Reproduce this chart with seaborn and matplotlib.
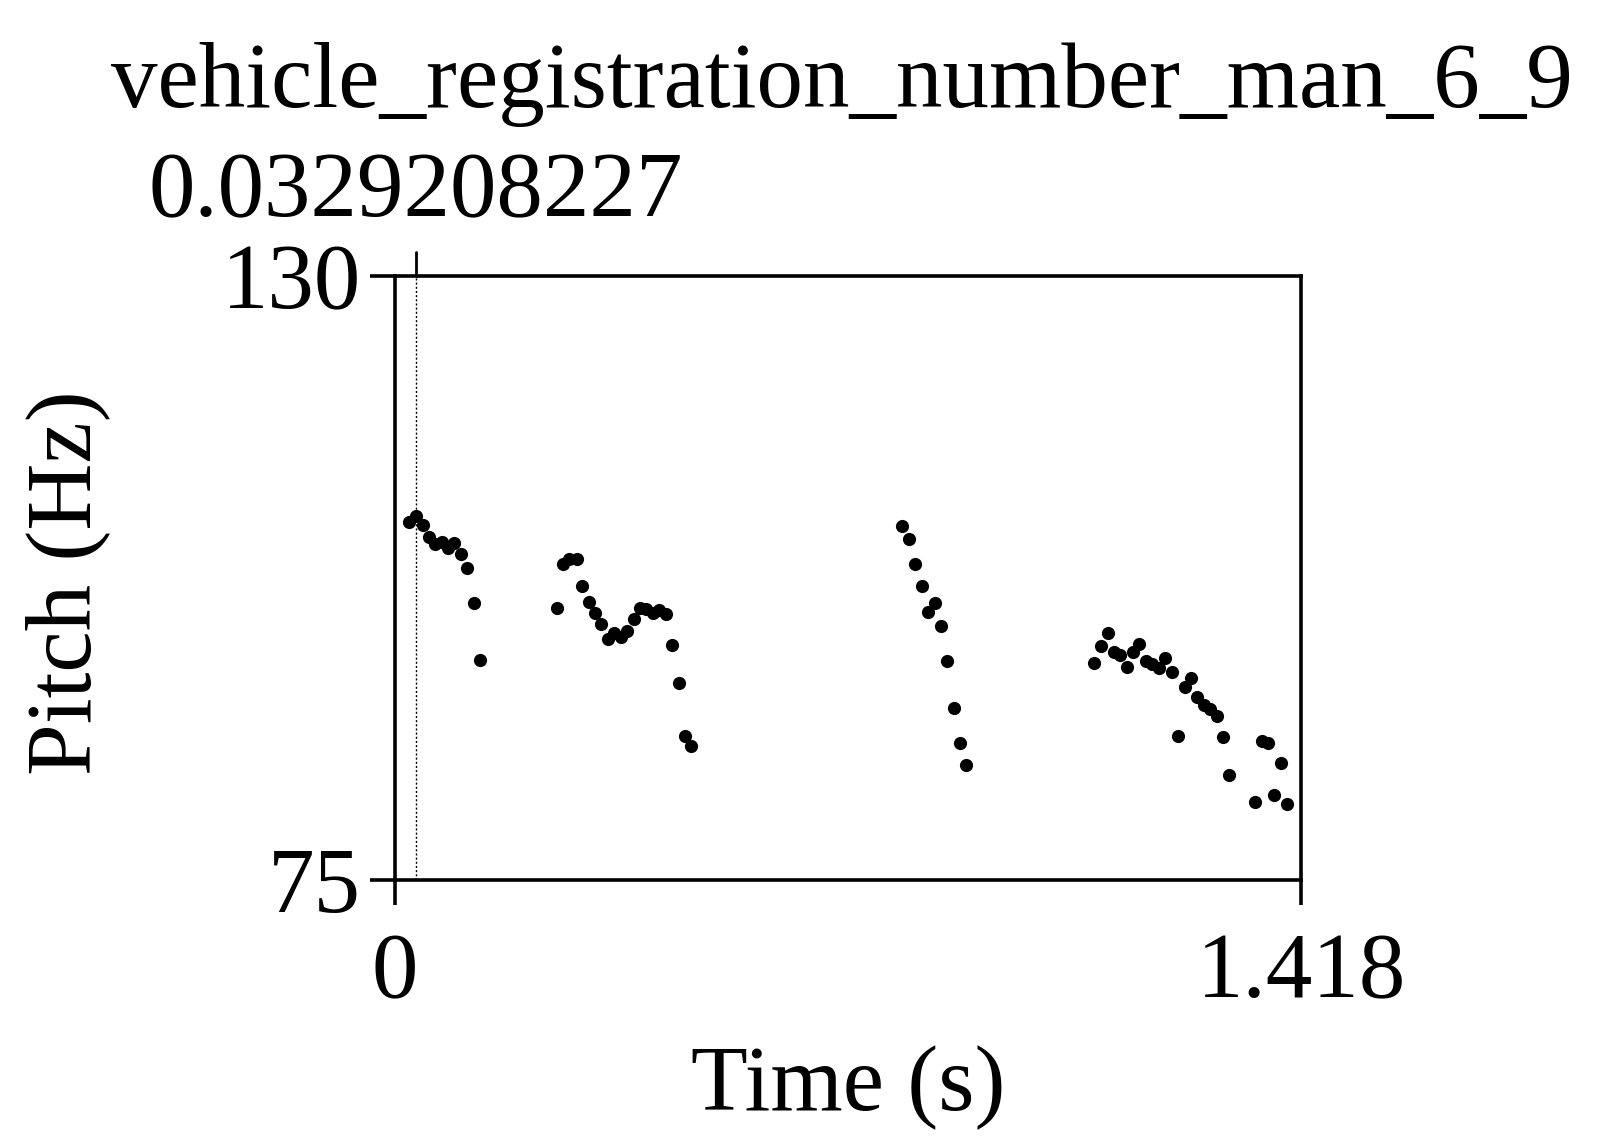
import numpy as np
import pandas as pd
import seaborn as sns
import matplotlib.pyplot as plt
import matplotlib.transforms as mtransforms

title = "vehicle_registration_number_man_6_9"
cursor_time = 0.0329208227
x_range = [0, 1.418]
y_range = [75, 130]

time_s = [0.0230, 0.0335, 0.0439, 0.0543, 0.0632, 0.0737, 0.0830, 0.0934, 0.1034, 0.1132, 0.1237, 0.1331,
          0.2540, 0.2629, 0.2732, 0.2848, 0.2931, 0.3035, 0.3134, 0.3232, 0.3337, 0.3436, 0.3536, 0.3634,
          0.3739, 0.3838, 0.3936, 0.4036, 0.4139, 0.4239, 0.4338, 0.4443, 0.4541, 0.4640,
          0.7939, 0.8039, 0.8143, 0.8243, 0.8341, 0.8446, 0.8540, 0.8643, 0.8743, 0.8842, 0.8940,
          1.0942, 1.1047, 1.1151, 1.1245, 1.1348, 1.1453, 1.1547, 1.1646, 1.1750, 1.1849, 1.1954, 1.2052,
          1.2152, 1.2251, 1.2356, 1.2454, 1.2548, 1.2653, 1.2756, 1.2856, 1.2950, 1.3053, 1.3455, 1.3560,
          1.3658, 1.3752, 1.3857, 1.3955]
pitch_hz = [107.63, 108.15, 107.33, 106.26, 105.60, 105.75, 105.20, 105.66, 104.69, 103.38, 100.22, 95.03,
            99.80, 103.75, 104.26, 104.23, 101.77, 100.31, 99.28, 98.31, 96.92, 97.46, 97.15, 97.67,
            98.79, 99.74, 99.65, 99.34, 99.59, 99.19, 96.43, 92.97, 88.11, 87.23,
            107.26, 106.02, 103.80, 101.80, 99.38, 100.20, 98.16, 94.94, 90.66, 87.45, 85.50,
            94.73, 96.31, 97.46, 95.76, 95.49, 94.40, 95.76, 96.52, 94.97, 94.64, 94.33, 95.19,
            93.91, 88.11, 92.60, 93.42, 91.69, 90.96, 90.57, 89.93, 88.02, 84.56, 82.10, 87.68,
            87.45, 82.77, 85.63, 81.92]

df = pd.DataFrame({"Time (s)": time_s, "Pitch (Hz)": pitch_hz})

sns.set_style("ticks")
plt.rcParams['font.family'] = ['Liberation Serif', 'DejaVu Serif']
plt.rcParams['text.color'] = 'black'
plt.rcParams['axes.labelcolor'] = 'black'
plt.rcParams['xtick.color'] = 'black'
plt.rcParams['ytick.color'] = 'black'
fs = 67

fig = plt.figure(figsize=(16.03, 11.36), dpi=100)
ax = fig.add_axes([0.2462, 0.2254, 0.5657, 0.5317])

sns.scatterplot(data=df, x="Time (s)", y="Pitch (Hz)", ax=ax, color="black", s=90, linewidth=0)

ax.set_xlim(x_range)
ax.set_ylim(y_range)
ax.set_xticks(x_range)
ax.set_xticklabels(["0", "1.418"])
ax.set_yticks(y_range)
ax.set_yticklabels(["75", "130"])

for sp in ax.spines.values():
    sp.set_linewidth(2.6)
    sp.set_color("black")
ax.tick_params(axis="both", direction="out", length=18, width=2.6, colors="black", labelsize=fs)
ax.tick_params(axis="x", pad=20)
ax.tick_params(axis="y", pad=6)

ax.set_xlabel("Time (s)", fontsize=fs)
ax.xaxis.label.set_va("baseline")
ax.xaxis.set_label_coords(0.5, -0.381)
ax.set_ylabel("Pitch (Hz)", fontsize=fs)
ax.yaxis.label.set_va("center")
ax.yaxis.set_label_coords(-0.3607, 0.492)

# cursor
ax.axvline(cursor_time, color="black", linestyle=(0, (1.5, 1.5)), linewidth=1.0)
trans = mtransforms.blended_transform_factory(ax.transData, ax.transAxes)
ax.plot([cursor_time, cursor_time], [1.0, 1.04], color="black", linewidth=2.0,
        transform=trans, clip_on=False)
ax.text(cursor_time, 1.0993, "0.0329208227", transform=trans, ha="center", va="baseline", fontsize=fs)
ax.text(0.4934, 1.2798, title, transform=ax.transAxes, ha="center", va="baseline", fontsize=fs)

fig.savefig("out.png", dpi=100, facecolor="white")
